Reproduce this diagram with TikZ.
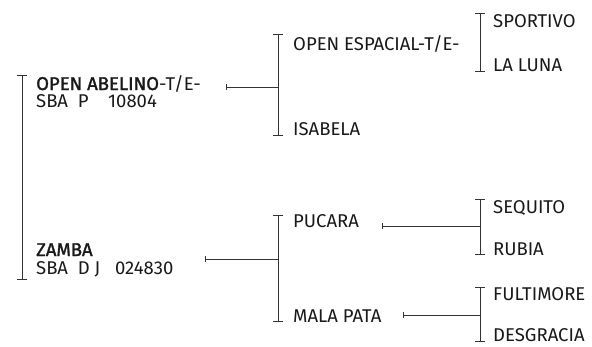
\documentclass[tikz,border=0pt]{standalone}
\usepackage{fontspec}
\setmainfont{Fira Sans}
\newfontfamily\semib[FakeBold=1.6]{Fira Sans}
\usetikzlibrary{arrows.meta}
\begin{document}
\begin{tikzpicture}[x=1pt,y=-1pt,
  lbl/.style={anchor=base west,inner sep=0pt,font=\fontsize{18.5}{22}\selectfont,text=black!90},
  brk/.style={draw=black!80,line width=0.9pt,{Bar[width=10pt,line width=0.9pt]}-{Bar[width=10pt,line width=0.9pt]}},
  conn/.style={draw=black!80,line width=0.9pt,{Bar[width=6pt,line width=0.9pt]}-}]
\useasboundingbox (0,0) rectangle (592,346);
% level 1
\coordinate (b1t) at (22,75); \coordinate (b1b) at (22,280);
\draw[brk] (b1t) -- (b1b);
\node[lbl] (abel) at (36,90) {{\semib OPEN ABELINO}-T/E-};
\node[lbl] (abel2) at (36,107) {SBA\ \ P\ \ \ \ 10804};
\node[lbl] (zamba) at (36,256) {{\semib ZAMBA}};
\node[lbl] (zamba2) at (36,274) {SBA\ \ D J\ \ \ 024830};
% level 2
\coordinate (b2at) at (278,34); \coordinate (b2ab) at (278,136);
\draw[brk] (b2at) -- (b2ab);
\coordinate (c1s) at (226,87); \coordinate (c1e) at (278,87);
\draw[conn] (c1s) -- (c1e);
\node[lbl] (esp) at (293,50) {OPEN ESPACIAL-T/E-};
\node[lbl] (isa) at (293,135) {ISABELA};
\coordinate (b2bt) at (278,215); \coordinate (b2bb) at (278,322);
\draw[brk] (b2bt) -- (b2bb);
\coordinate (c2s) at (205,259); \coordinate (c2e) at (278,259);
\draw[conn] (c2s) -- (c2e);
\node[lbl] (puc) at (293,227) {PUCARA};
\node[lbl] (mala) at (293,322) {MALA PATA};
% level 3
\coordinate (b3at) at (480,13); \coordinate (b3ab) at (480,72);
\draw[brk] (b3at) -- (b3ab);
\node[lbl] (spo) at (493,27) {SPORTIVO};
\node[lbl] (lun) at (493,71) {LA LUNA};
\coordinate (b3bt) at (480,199); \coordinate (b3bb) at (480,255);
\draw[brk] (b3bt) -- (b3bb);
\coordinate (c3s) at (382,226); \coordinate (c3e) at (480,226);
\draw[conn] (c3s) -- (c3e);
\node[lbl] (seq) at (493,213) {SEQUITO};
\node[lbl] (rub) at (493,255) {RUBIA};
\coordinate (b3ct) at (480,287); \coordinate (b3cb) at (480,342);
\draw[brk] (b3ct) -- (b3cb);
\coordinate (c4s) at (403,315); \coordinate (c4e) at (480,315);
\draw[conn] (c4s) -- (c4e);
\node[lbl] (ful) at (493,300) {FULTIMORE};
\node[lbl] (des) at (493,341) {DESGRACIA};
\end{tikzpicture}
\end{document}
